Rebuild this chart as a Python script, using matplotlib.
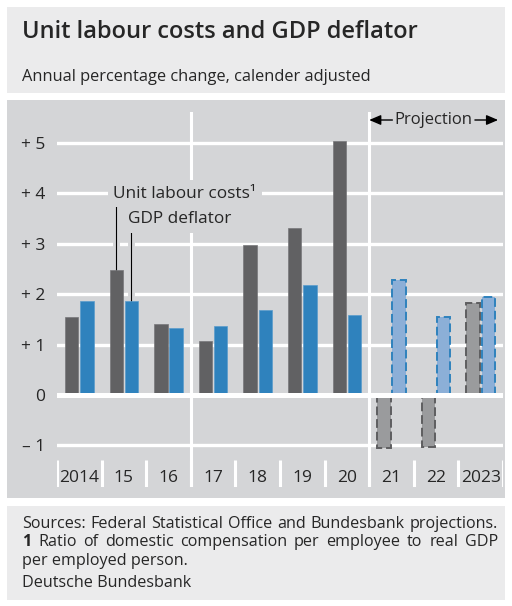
import matplotlib.pyplot as plt
import matplotlib.patheffects as pe
from matplotlib.patches import Rectangle
from matplotlib.transforms import Affine2D
import numpy as np

plt.rcParams['font.family'] = ['Open Sans', 'DejaVu Sans']

# Data
years = ['2014', '15', '16', '17', '18', '19', '20', '21', '22', '2023']
unit_labour_costs = [1.54, 2.48, 1.41, 1.07, 2.98, 3.31, 5.03, -1.05, -1.03, 1.82]
gdp_deflator = [1.87, 1.86, 1.33, 1.36, 1.68, 2.19, 1.58, 2.28, 1.55, 1.94]
first_projection = 7
yticks = [-1, 0, 1, 2, 3, 4, 5]
ytick_labels = ['\u2013 1', '0', '+ 1', '+ 2', '+ 3', '+ 4', '+ 5']

W, H = 512, 606
panel_dark = '#d4d5d7'
panel_light = '#ebebec'
text_col = '#262626'
ulc_col = '#616163'
gdp_col = '#2f82bd'
ulc_proj = '#9a9b9d'
gdp_proj = '#8cafd7'

fig = plt.figure(figsize=(W / 100, H / 100), dpi=100)
px = Affine2D().scale(1 / W, -1 / H).translate(0, 1) + fig.transFigure

# background panels
for y0, y1, col in [(7, 93, panel_light), (100, 498, panel_dark), (506, 600, panel_light)]:
    fig.add_artist(Rectangle((7, y0), 498, y1 - y0, transform=px, facecolor=col,
                             edgecolor='none', zorder=0))

fig.text(22, 38.5, 'Unit labour costs and GDP deflator', transform=px, fontsize=17,
         fontweight='semibold', color=text_col, va='baseline')
fig.text(22, 81, 'Annual percentage change, calender adjusted', transform=px,
         fontsize=11.8, color=text_col, va='baseline')

# axes: x 57..503 px, y 112..487 px ; 0 at 395 px, 50.4 px per unit
ax = fig.add_axes([57 / W, 1 - 487 / H, 446 / W, 375 / H])
ax.set_facecolor('none')
ax.set_xlim(-0.5, len(years) - 0.5)
ax.set_ylim((395 - 487) / 50.4, (395 - 112) / 50.4)
for s in ax.spines.values():
    s.set_visible(False)

for v in yticks:
    if v != 0:
        ax.axhline(v, color='white', lw=2.4, zorder=1)
ax.axhline(0, color='white', lw=3.6, zorder=5)

# separators
for xs in [2.5, 6.5]:
    ax.axvline(xs, color='white', lw=2.2, zorder=1)
ybot = (395 - 460) / 50.4
for xs in np.arange(-0.5, len(years), 1.0):
    ax.plot([xs, xs], [ax.get_ylim()[0], ybot], color='white', lw=2.2, zorder=1,
            solid_capstyle='butt')

x = np.arange(len(years))
bw, off = 0.30, 0.17
hist = slice(0, first_projection)
proj = slice(first_projection, None)
ax.bar(x[hist] - off, unit_labour_costs[hist], bw, color=ulc_col, edgecolor='#77777a',
       lw=0.5, zorder=3)
ax.bar(x[hist] + off, gdp_deflator[hist], bw, color=gdp_col, edgecolor='#5a9ccc',
       lw=0.5, zorder=3)
ax.bar(x[proj] - off, unit_labour_costs[proj], bw, color=ulc_proj, edgecolor='#5e5e60',
       lw=1.4, linestyle=(0, (4.5, 2)), zorder=3)
ax.bar(x[proj] + off, gdp_deflator[proj], bw, color=gdp_proj, edgecolor=gdp_col,
       lw=1.4, linestyle=(0, (4.5, 2)), zorder=3)

# ticks
ax.set_yticks(yticks)
ax.set_yticklabels(ytick_labels)
ax.set_xticks(x)
ax.set_xticklabels(years)
ax.tick_params(axis='y', length=0, pad=8.5, labelsize=12.5, labelcolor=text_col)
ax.tick_params(axis='x', length=0, pad=-12.5, labelsize=12.5, labelcolor=text_col)

# series labels with leader lines
bg = dict(facecolor=panel_dark, edgecolor='none', pad=4)
ax.text(0.76, 3.99, 'Unit labour costs\u00b9', fontsize=12.4, color=text_col,
        va='center', ha='left', bbox=bg, zorder=6)
ax.text(1.09, 3.49, 'GDP deflator', fontsize=12.4, color=text_col,
        va='center', ha='left', bbox=bg, zorder=6)
stroke = [pe.Stroke(linewidth=5, foreground=panel_dark), pe.Normal()]
ax.plot([1 - off, 1 - off], [3.73, unit_labour_costs[1]], color='black', lw=0.8,
        zorder=2, path_effects=stroke)
ax.plot([1 + off, 1 + off], [3.29, gdp_deflator[1]], color='black', lw=0.8,
        zorder=2, path_effects=stroke)

# projection marker
yp = (395 - 120) / 50.4
ax.text(7.95, yp, 'Projection', fontsize=12, color=text_col, ha='center', va='center',
        zorder=6)
arrow = dict(arrowstyle='-|>,head_length=0.7,head_width=0.3', color='black', lw=1,
             shrinkA=0, shrinkB=0)
ax.annotate('', xy=(6.5, yp), xytext=(7.02, yp), arrowprops=arrow, zorder=6)
ax.annotate('', xy=(9.39, yp), xytext=(8.87, yp), arrowprops=arrow, zorder=6)


# footer, justified lines
def justified(words, y, x0, x1, bold_first=False):
    texts = []
    for i, w in enumerate(words):
        texts.append(fig.text(0, 0, w, transform=px, fontsize=11.6, color=text_col,
                              va='baseline',
                              fontweight='bold' if (bold_first and i == 0) else 'normal'))
    r = fig.canvas.get_renderer()
    widths = [t.get_window_extent(r).width for t in texts]
    gap = (x1 - x0 - sum(widths)) / (len(words) - 1)
    pos = x0
    for t, wd in zip(texts, widths):
        t.set_position((pos, y))
        pos += wd + gap


justified('Sources: Federal Statistical Office and Bundesbank projections.'.split(),
          528, 22, 498)
justified('1 Ratio of domestic compensation per employee to real GDP'.split(),
          546.5, 22, 498, bold_first=True)
fig.text(22, 565, 'per employed person.', transform=px, fontsize=11.6, color=text_col,
         va='baseline')
fig.text(22, 587, 'Deutsche Bundesbank', transform=px, fontsize=11.6, color=text_col,
         va='baseline')

fig.savefig('out.png', dpi=100)
